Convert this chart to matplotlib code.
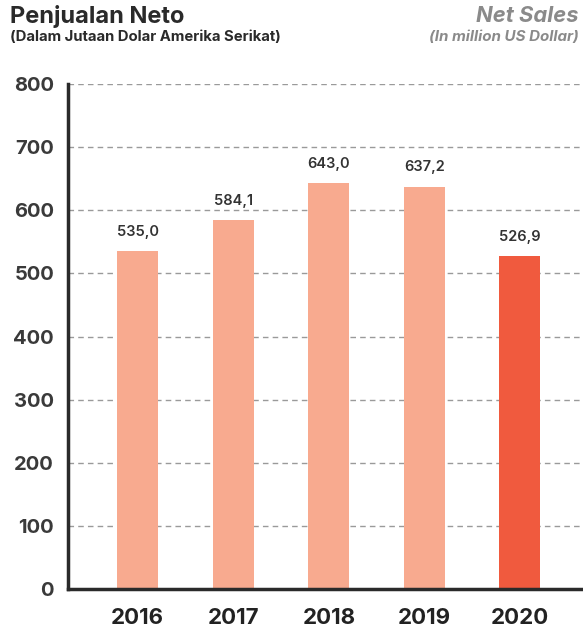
import matplotlib
matplotlib.use("Agg")
import matplotlib.pyplot as plt

years = ["2016", "2017", "2018", "2019", "2020"]
net_sales = [535.0, 584.1, 643.0, 637.2, 526.9]
value_labels = ["535,0", "584,1", "643,0", "637,2", "526,9"]
y_ticks = [0, 100, 200, 300, 400, 500, 600, 700, 800]

light = "#F8AA8F"
strong = "#F05A3E"
colors = [light] * (len(years) - 1) + [strong]

plt.rcParams["font.family"] = ["Inter", "DejaVu Sans"]

fig = plt.figure(figsize=(5.83, 6.32), dpi=100)
ax = fig.add_axes([68 / 583, 1 - 589 / 632, 1 - 68 / 583, (589 - 84) / 632])

x = list(range(len(years)))
bars = ax.bar(x, net_sales, width=0.43, color=colors, zorder=3)

for xi, v, lab in zip(x, net_sales, value_labels):
    ax.annotate(lab, (xi, v), xytext=(0, 9), textcoords="offset points",
                ha="center", va="bottom", fontsize=10.5, fontweight="semibold",
                color="#333333")

ax.set_xlim(-0.73, 4.66)
ax.set_ylim(0, 800)
ax.set_yticks(y_ticks)
ax.set_yticklabels([str(t) for t in y_ticks], fontsize=14.5, fontweight="bold",
                   color="#3a3a3a")
ax.set_xticks(x)
ax.set_xticklabels(years, fontsize=16, fontweight="bold", color="#222222")
ax.tick_params(axis="both", length=0)
ax.tick_params(axis="y", pad=10)
ax.tick_params(axis="x", pad=14)

ax.grid(axis="y", linestyle=(0, (4, 3)), color="#9a9a9a", linewidth=1, zorder=0)
for side in ("top", "right"):
    ax.spines[side].set_visible(False)
for side in ("left", "bottom"):
    ax.spines[side].set_color("#2a2a2a")
    ax.spines[side].set_linewidth(2.5)
    ax.spines[side].set_zorder(4)

fig.text(10 / 583, 1 - 16 / 632, "Penjualan Neto", fontsize=17, fontweight="bold",
         color="#2a2a2a", ha="left", va="center")
fig.text(10 / 583, 1 - 37 / 632, "(Dalam Jutaan Dolar Amerika Serikat)", fontsize=10.7,
         fontweight="bold", color="#2a2a2a", ha="left", va="center")
fig.text(579 / 583, 1 - 16 / 632, "Net Sales", fontsize=15.8, fontweight="bold",
         fontstyle="italic", color="#8a8a8a", ha="right", va="center")
fig.text(579 / 583, 1 - 37 / 632, "(In million US Dollar)", fontsize=10.9,
         fontweight="bold", fontstyle="italic", color="#8a8a8a", ha="right", va="center")

fig.savefig("out.png", dpi=100)
